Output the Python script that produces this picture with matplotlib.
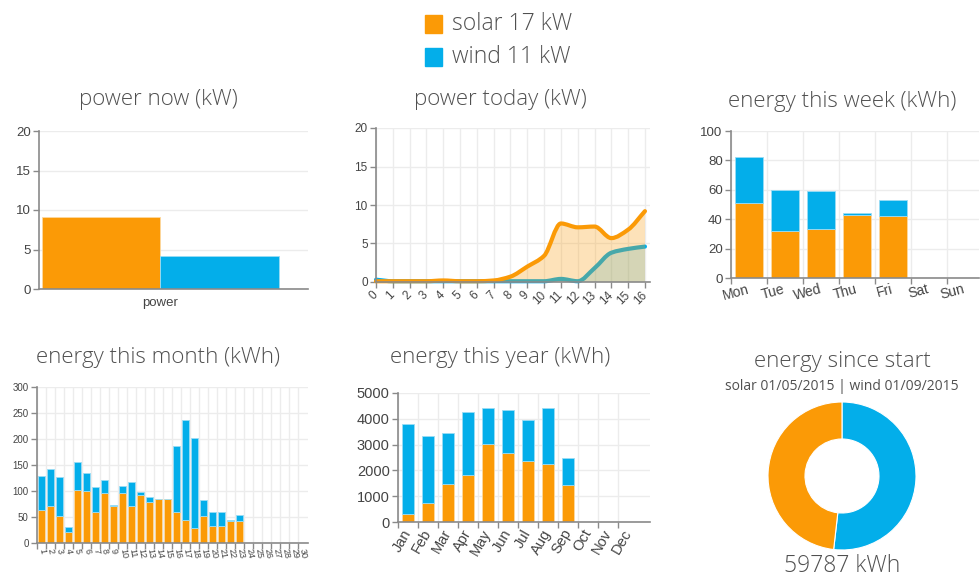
import numpy as np
import matplotlib
matplotlib.use("Agg")
import matplotlib.pyplot as plt
from matplotlib.path import Path
from matplotlib.patches import PathPatch, Rectangle

# ---------------- data ----------------
SOLAR_COLOR = "#fb9a06"
WIND_COLOR = "#03aeea"

legend_labels = ["solar 17 kW", "wind 11 kW"]

now_labels = ["power"]
now_solar = [9.1]
now_wind = [4.2]

today_hours = list(range(17))
today_solar = [0.1, 0.1, 0.1, 0.1, 0.2, 0.1, 0.1, 0.2, 0.7, 2.0, 3.4, 7.6, 7.1, 7.2, 5.7, 6.8, 9.2]
today_wind = [0.3, 0.1, 0.1, 0.1, 0.1, 0.1, 0.1, 0.1, 0.1, 0.1, 0.1, 0.4, 0.1, 1.8, 3.8, 4.3, 4.6]

week_days = ["Mon", "Tue", "Wed", "Thu", "Fri", "Sat", "Sun"]
week_solar = [51, 32, 33, 43, 42, 0, 0]
week_wind = [31, 28, 26, 1, 11, 0, 0]

month_days = [str(d) for d in range(1, 31)]
month_solar = [63, 72, 51, 22, 101, 100, 60, 96, 72, 97, 72, 93, 78, 85, 85, 60, 45, 28,
               51, 32, 33, 43, 42, 0, 0, 0, 0, 0, 0, 0]
month_wind = [65, 71, 76, 9, 55, 34, 47, 26, 1, 12, 46, 5, 11, 0, 0, 126, 191, 174,
              31, 28, 26, 1, 11, 0, 0, 0, 0, 0, 0, 0]

year_months = ["Jan", "Feb", "Mar", "Apr", "May", "Jun", "Jul", "Aug", "Sep", "Oct", "Nov", "Dec"]
year_solar = [300, 720, 1490, 1810, 3010, 2660, 2380, 2240, 1450, 0, 0, 0]
year_wind = [3510, 2630, 1970, 2470, 1410, 1670, 1590, 2190, 1040, 0, 0, 0]

total_labels = ["wind", "solar"]
total_values = [30970, 28817]
total_kwh = "59787 kWh"
since_text = "solar 01/05/2015 | wind 01/09/2015"

# ---------------- style ----------------
W, H = 980, 581
fig = plt.figure(figsize=(W / 100, H / 100), dpi=100)
TITLE_FONT = ["Open Sans", "DejaVu Sans"]
TICK_FONT = ["Liberation Sans", "DejaVu Sans"]
TITLE_COLOR = "#505050"
TICK_COLOR = "#444444"
AXIS_COLOR = "#8a8a8a"
GRID_COLOR = "#ececec"


def rect(x0, y0, x1, y1):
    return [x0 / W, 1 - y1 / H, (x1 - x0) / W, (y1 - y0) / H]


def style_axes(ax, tick_size):
    for s in ["top", "right"]:
        ax.spines[s].set_visible(False)
    for s in ["left", "bottom"]:
        ax.spines[s].set_color(AXIS_COLOR)
        ax.spines[s].set_linewidth(1.2)
    ax.tick_params(axis="both", which="both", colors=AXIS_COLOR, length=4, width=1,
                   labelcolor=TICK_COLOR, labelsize=tick_size, pad=2)
    for lab in ax.get_xticklabels() + ax.get_yticklabels():
        lab.set_family(TICK_FONT)
    ax.set_axisbelow(True)


def title(x, y, text, size=16):
    fig.text(x / W, 1 - y / H, text, ha="center", va="center", fontsize=size,
             family=TITLE_FONT, color=TITLE_COLOR, fontweight="light")


def band_axis(ax, labels, rotation, ha, size, rotation_mode="anchor", va="center"):
    n = len(labels)
    ax.set_xticks(np.arange(n))
    ax.set_xticklabels(labels, rotation=rotation, ha=ha, va=va,
                       rotation_mode=rotation_mode, fontsize=size, family=TICK_FONT)
    ax.set_xticks(np.arange(n) - 0.5, minor=True)
    ax.tick_params(axis="x", which="major", length=0, pad=6)
    ax.tick_params(axis="x", which="minor", length=4, color=AXIS_COLOR)
    ax.grid(True, axis="x", which="minor", color=GRID_COLOR, lw=1)
    ax.grid(True, axis="y", which="major", color=GRID_COLOR, lw=1)


def stacked(ax, solar, wind, width):
    x = np.arange(len(solar))
    ax.bar(x, solar, width=width, color=SOLAR_COLOR, edgecolor="#fcd9a0", lw=0.6)
    ax.bar(x, wind, bottom=solar, width=width, color=WIND_COLOR, edgecolor="#9adcf5", lw=0.6)


def monotone_path(xs, ys):
    xs = np.asarray(xs, float)
    ys = np.asarray(ys, float)
    n = len(xs)
    h = np.diff(xs)
    d = np.diff(ys) / h
    m = np.zeros(n)
    m[0] = d[0]
    m[-1] = d[-1]
    for i in range(1, n - 1):
        if d[i - 1] * d[i] <= 0:
            m[i] = 0
        else:
            m[i] = 3 * (h[i - 1] + h[i]) / ((2 * h[i] + h[i - 1]) / d[i - 1] + (h[i] + 2 * h[i - 1]) / d[i])
    verts = [(xs[0], ys[0])]
    codes = [Path.MOVETO]
    for i in range(n - 1):
        dx = h[i] / 3
        verts += [(xs[i] + dx, ys[i] + m[i] * dx), (xs[i + 1] - dx, ys[i + 1] - m[i + 1] * dx),
                  (xs[i + 1], ys[i + 1])]
        codes += [Path.CURVE4] * 3
    return verts, codes


def area_patch(xs, ys, color, alpha):
    verts, codes = monotone_path(xs, ys)
    verts = verts + [(xs[-1], 0), (xs[0], 0), (xs[0], ys[0])]
    codes = codes + [Path.LINETO, Path.LINETO, Path.CLOSEPOLY]
    return PathPatch(Path(verts, codes), facecolor=color, edgecolor="none", alpha=alpha)


def line_patch(xs, ys, color, lw, alpha=1.0):
    verts, codes = monotone_path(xs, ys)
    return PathPatch(Path(verts, codes), facecolor="none", edgecolor=color, lw=lw,
                     alpha=alpha, capstyle="round", joinstyle="round", clip_on=False)


# ---------------- legend ----------------
for i, (lab, col) in enumerate(zip(legend_labels, [SOLAR_COLOR, WIND_COLOR])):
    yc = 24 + i * 33
    fig.add_artist(Rectangle((425 / W, 1 - (yc + 9) / H), 17 / W, 18 / H,
                             transform=fig.transFigure, color=col))
    fig.text(452 / W, 1 - yc / H, lab, ha="left", va="center", fontsize=16.5,
             family=TITLE_FONT, color=TITLE_COLOR, fontweight="light")

# ---------------- power now ----------------
ax = fig.add_axes(rect(39, 131, 308, 289))
x = np.arange(len(now_labels))
ax.bar(x - 0.22, now_solar, width=0.44, color=SOLAR_COLOR, edgecolor="#fcd9a0", lw=0.6)
ax.bar(x + 0.22, now_wind, width=0.44, color=WIND_COLOR, edgecolor="#9adcf5", lw=0.6)
ax.set_xlim(-0.451, 0.548)
ax.set_ylim(0, 20)
ax.set_yticks([0, 5, 10, 15, 20])
ax.set_xticks(x)
ax.set_xticklabels(now_labels)
ax.grid(True, axis="y", color=GRID_COLOR, lw=1)
style_axes(ax, 9.5)
ax.tick_params(axis="x", length=0, pad=6)
title(158, 100, "power now (kW)")

# ---------------- power today ----------------
ax = fig.add_axes(rect(376, 128, 650, 282))
ax.set_xlim(0, 16.3)
ax.set_ylim(0, 20)
ax.add_patch(area_patch(today_hours, today_wind, WIND_COLOR, 0.22))
ax.add_patch(line_patch(today_hours, today_wind, WIND_COLOR, 3.0))
ax.add_patch(area_patch(today_hours, today_solar, SOLAR_COLOR, 0.28))
ax.add_patch(line_patch(today_hours, today_solar, SOLAR_COLOR, 3.0))
ax.set_xticks(today_hours)
ax.set_xticklabels([str(h) for h in today_hours], rotation=45, ha="right", va="center",
                   rotation_mode="anchor")
ax.set_yticks([0, 5, 10, 15, 20])
ax.grid(True, color=GRID_COLOR, lw=1)
style_axes(ax, 8.5)
ax.tick_params(axis="x", pad=4)
title(500, 100, "power today (kW)")

# ---------------- energy this week ----------------
ax = fig.add_axes(rect(731, 131, 979, 278))
stacked(ax, week_solar, week_wind, 0.79)
ax.set_xlim(-0.5, 6.4)
ax.set_ylim(0, 100)
ax.set_yticks([0, 20, 40, 60, 80, 100])
style_axes(ax, 9.5)
band_axis(ax, week_days, 15, "right", 10)
ax.tick_params(axis="x", which="major", pad=8)
title(842, 101, "energy this week (kWh)")

# ---------------- energy this month ----------------
ax = fig.add_axes(rect(37, 387, 308, 543))
stacked(ax, month_solar, month_wind, 0.78)
ax.set_xlim(-0.5, 29.6)
ax.set_ylim(0, 300)
ax.set_yticks(np.arange(0, 301, 50))
style_axes(ax, 7)
band_axis(ax, month_days, -80, "left", 6.5)
ax.tick_params(axis="x", which="major", pad=4)
title(158, 358, "energy this month (kWh)")

# ---------------- energy this year ----------------
ax = fig.add_axes(rect(398, 393, 650, 522))
stacked(ax, year_solar, year_wind, 0.58)
ax.set_xlim(-0.5, 12.1)
ax.set_ylim(0, 5000)
ax.set_yticks(np.arange(0, 5001, 1000))
style_axes(ax, 10.5)
band_axis(ax, year_months, 60, "right", 10.5)
title(500, 358, "energy this year (kWh)")

# ---------------- energy since start ----------------
ax = fig.add_axes(rect(842 - 74, 476 - 74, 842 + 74, 476 + 74))
ax.pie(total_values, colors=[WIND_COLOR, SOLAR_COLOR], startangle=90, counterclock=False,
       radius=1, wedgeprops=dict(width=0.5, edgecolor="white", linewidth=0.8))
ax.set_xlim(-1, 1)
ax.set_ylim(-1, 1)
ax.set_aspect("equal")
ax.axis("off")
title(842, 361, "energy since start")
fig.text(842 / W, 1 - 386 / H, since_text, ha="center", va="center", fontsize=10,
         family=TITLE_FONT, color=TITLE_COLOR)
fig.text(842 / W, 1 - 566 / H, total_kwh, ha="center", va="center", fontsize=16.5,
         family=TITLE_FONT, color=TITLE_COLOR, fontweight="light")

fig.savefig("out.png", dpi=100)
